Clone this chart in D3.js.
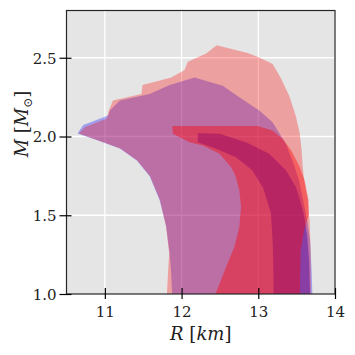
<!DOCTYPE html>
<html><head><meta charset="utf-8">
<script src="https://cdn.jsdelivr.net/npm/d3@7"></script>
<style>body{margin:0;background:#fff} text{font-family:"DejaVu Serif","Liberation Serif",serif !important;}</style>
</head><body>
<svg id="c" width="355" height="355"></svg>
<script>
// ---- data ----
const xTicks = [11, 12, 13, 14];
const yTicks = [1.0, 1.5, 2.0, 2.5];
const xDomain = [10.5, 14];
const yDomain = [1.0, 2.8];

// outer (95%) band, dataset A (blue)
const outerBlueR = [11.877,11.864,11.844,11.799,11.714,11.584,11.416,11.195,10.909,10.643,10.718,11.043,11.065,11.195,11.584,11.844,12.169,12.536,12.753,13.013,13.186,13.360,13.468,13.532,13.584,13.636,13.675,13.695,13.705];
const outerBlueM = [1.0,1.133,1.259,1.430,1.595,1.747,1.848,1.924,1.975,2.019,2.073,2.133,2.165,2.228,2.270,2.327,2.375,2.323,2.249,2.165,2.091,1.954,1.816,1.722,1.595,1.468,1.342,1.152,1.0];

// outer (95%) band, dataset B (red)
const outerRedR = [11.809,11.825,11.838,11.797,11.719,11.590,11.422,11.202,10.917,10.660,10.740,11.026,11.052,11.104,11.477,11.490,11.866,12.039,12.082,12.321,12.458,12.861,13.013,13.186,13.292,13.403,13.487,13.539,13.565,13.578,13.597,13.643,13.669,13.682,13.686];
const outerRedM = [1.0,1.152,1.259,1.430,1.595,1.747,1.848,1.924,1.975,2.019,2.060,2.114,2.165,2.228,2.270,2.327,2.375,2.422,2.475,2.527,2.580,2.530,2.502,2.460,2.373,2.259,2.133,2.025,1.911,1.816,1.722,1.595,1.468,1.278,1.0];

// inner (68%) band, dataset A
const innerBlueR = [12.212,12.494,12.840,13.143,13.360,13.490,13.545,13.597,13.636,13.662,13.675,13.199,13.195,13.186,13.165,13.065,12.922,12.710,12.451,12.212];
const innerBlueM = [2.021,2.017,1.964,1.891,1.785,1.679,1.595,1.5,1.373,1.215,1.0,1.0,1.215,1.342,1.513,1.671,1.785,1.869,1.922,1.964];

// inner (68%) band, dataset B
const innerRedR = [11.879,12.991,13.186,13.316,13.429,13.532,13.604,13.656,13.656,13.597,13.552,13.542,12.442,12.581,12.688,12.753,12.775,12.753,12.701,12.645,12.494,12.277,12.104,11.887];
const innerRedM = [2.066,2.066,2.038,1.985,1.911,1.816,1.722,1.595,1.5,1.405,1.278,1.0,1.0,1.173,1.299,1.426,1.553,1.658,1.753,1.806,1.891,1.943,1.964,2.017];

// ---- drawing ----
const svg = d3.select("#c");
const L = 66.5, R = 335, T = 10.5, B = 294;
const x = d3.scaleLinear().domain(xDomain).range([L, R]);
const y = d3.scaleLinear().domain(yDomain).range([B, T]);

svg.append("defs").append("clipPath").attr("id","clip")
  .append("rect").attr("x",L).attr("y",T).attr("width",R-L).attr("height",B-T);

svg.append("rect").attr("x",L).attr("y",T).attr("width",R-L).attr("height",B-T).attr("fill","#e5e5e5");

// grid
const g = svg.append("g");
g.selectAll("line.gx").data(xTicks).join("line")
  .attr("x1",d=>x(d)).attr("x2",d=>x(d)).attr("y1",T).attr("y2",B)
  .attr("stroke","#fff").attr("stroke-width",1.3);
g.selectAll("line.gy").data(yTicks.filter(d=>d>yDomain[0])).join("line")
  .attr("y1",d=>y(d)).attr("y2",d=>y(d)).attr("x1",L).attr("x2",R)
  .attr("stroke","#fff").attr("stroke-width",1.3);

const line = d3.line().x(d=>x(d[0])).y(d=>y(d[1])).curve(d3.curveLinearClosed);
const layers = [
  {r: outerBlueR, m: outerBlueM, c: "rgb(0,0,255)", o: 0.3},
  {r: outerRedR,  m: outerRedM,  c: "rgb(255,0,0)", o: 0.3},
  {r: innerBlueR, m: innerBlueM, c: "rgb(85,14,166)", o: 0.5},
  {r: innerRedR,  m: innerRedM,  c: "rgb(255,0,0)", o: 0.4}
];
const pg = svg.append("g").attr("clip-path","url(#clip)");
layers.forEach(ly => {
  pg.append("path").datum(ly.r.map((v,i)=>[v, ly.m[i]]))
    .attr("d", line).attr("fill", ly.c).attr("fill-opacity", ly.o).attr("stroke","none");
});

// frame
svg.append("rect").attr("x",L).attr("y",T).attr("width",R-L).attr("height",B-T)
  .attr("fill","none").attr("stroke","#262626").attr("stroke-width",1.2);

// x axis
const xa = svg.append("g").attr("transform",`translate(0,${B})`)
  .call(d3.axisBottom(x).tickValues(xTicks).tickSize(0).tickFormat(d3.format("d")));
xa.attr("font-family", null);
xa.select(".domain").remove();
xa.selectAll(".tick line").remove();
xa.selectAll(".tick").append("line").attr("y1",-6).attr("y2",5).attr("stroke","#000").attr("stroke-width",1.2);
xa.selectAll(".tick text").attr("y",12).attr("dy","0.71em").attr("font-size",15).attr("fill","#222");

// y axis
const ya = svg.append("g").attr("transform",`translate(${L},0)`)
  .call(d3.axisLeft(y).tickValues(yTicks).tickSize(0).tickFormat(d3.format(".1f")));
ya.attr("font-family", null);
ya.select(".domain").remove();
ya.selectAll(".tick line").remove();
ya.selectAll(".tick").append("line").attr("x1",-7).attr("x2",5).attr("stroke","#000").attr("stroke-width",1.2);
ya.selectAll(".tick text").attr("x",-10).attr("dy","0.35em").attr("font-size",15).attr("fill","#222");

// axis titles
const xt = svg.append("text").attr("x",(L+R)/2).attr("y",340).attr("text-anchor","middle")
  .attr("font-size",18).attr("fill","#222");
xt.append("tspan").attr("font-style","italic").text("R");
xt.append("tspan").text(" [");
xt.append("tspan").attr("font-style","italic").text("km");
xt.append("tspan").text("]");

const yt = svg.append("text").attr("transform","translate(28,124) rotate(-90)").attr("text-anchor","middle")
  .attr("font-size",18).attr("fill","#222");
yt.append("tspan").attr("font-style","italic").text("M");
yt.append("tspan").text(" [");
yt.append("tspan").attr("font-style","italic").text("M");
yt.append("tspan").attr("font-size",12).attr("dy",4).text("⊙");
yt.append("tspan").attr("dy",-4).text("]");
</script>
</body></html>
